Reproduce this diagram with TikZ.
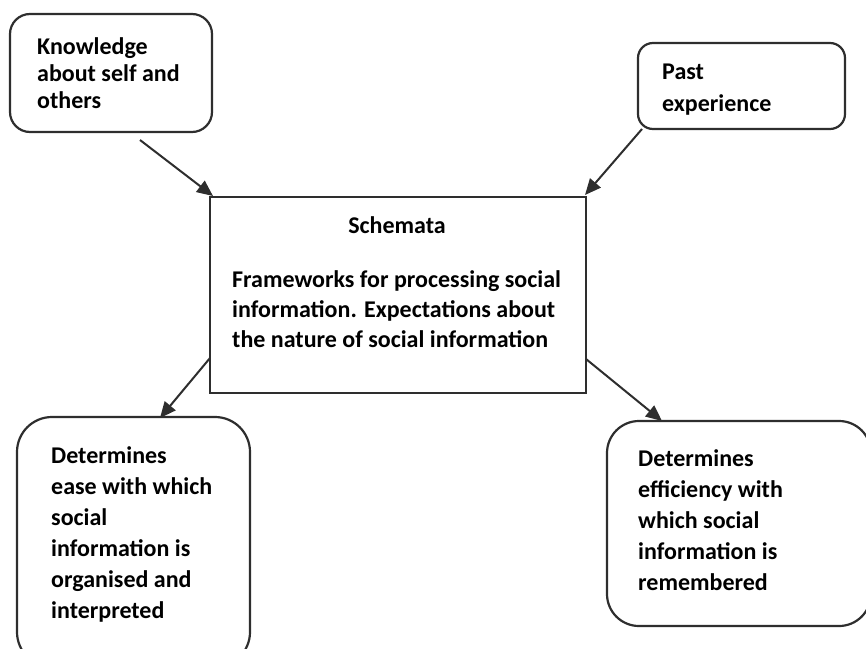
\documentclass[tikz,border=0pt]{standalone}
\usepackage{fontspec}
\setmainfont{Carlito}[BoldFont={Carlito Bold}]
\usetikzlibrary{arrows.meta}
\definecolor{edge}{HTML}{2E2E2E}
\tikzset{
  rbox/.style={draw=edge, line width=2.2pt, rectangle, fill=white, inner sep=0pt},
  txt/.style={inner sep=0pt, align=left, font=\fontsize{24}{#1}\selectfont\bfseries},
  txt/.default={30},
  arr/.style={draw=edge, line width=2pt, -{Triangle[length=16pt,width=14pt]}, shorten >=0pt}
}
\begin{document}
\begin{tikzpicture}[x=1pt,y=-1pt]
\useasboundingbox (0,0) rectangle (866,648);
\begin{scope}
\clip (0,0) rectangle (866,648);
% boxes
\node[rbox, rounded corners=20pt, minimum width=202pt, minimum height=118pt] (know) at (111,73) {};
\node[rbox, rounded corners=15pt, minimum width=207pt, minimum height=86pt] (past) at (741.5,86) {};
\node[rbox, minimum width=376pt, minimum height=196pt] (schema) at (398,295) {};
\node[rbox, rounded corners=35pt, minimum width=233pt, minimum height=250pt] (ease) at (133.5,542) {};
\node[rbox, rounded corners=32pt, minimum width=264pt, minimum height=205pt] (eff) at (739,523.5) {};
% texts (anchor = baseline of the last line)
\node[txt=27, anchor=base west] (tknow) at (37,108) {Knowledge\\about self and\\others};
\begin{scope}
\clip (640,45) rectangle (843,114);
\node[txt=32, anchor=base west] (tpast) at (662,111) {Past\\experience};
\end{scope}
\node[txt, anchor=base] (tschema) at (397,233) {Schemata};
\node[txt=30, anchor=base west] (tframe) at (232,347) {Frameworks for processing social\\information. Expectations about\\the nature of social information};
\node[txt=31, anchor=base west] (tease) at (51,618) {Determines\\ease with which\\social\\information is\\organised and\\interpreted};
\node[txt=31, anchor=base west] (teff) at (638,590) {Determines\\efficiency with\\which social\\information is\\remembered};
% connector ends
\coordinate (s1) at (140,140);
\coordinate (s2) at (642,129);
\coordinate (s3) at (210,358);
\coordinate (s4) at (586,359);
\coordinate (e1) at (213,196);
\coordinate (e2) at (585,195);
\coordinate (e3) at (160,418);
\coordinate (e4) at (662,421);
\draw[arr] (s1) -- (e1);
\draw[arr] (s2) -- (e2);
\draw[arr] (s3) -- (e3);
\draw[arr] (s4) -- (e4);
\end{scope}
\end{tikzpicture}
\end{document}
